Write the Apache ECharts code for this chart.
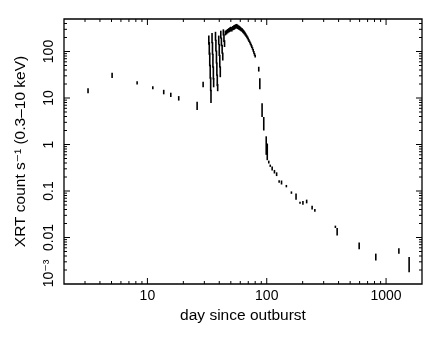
<!DOCTYPE html>
<html>
<head>
<meta charset="utf-8">
<script src="https://cdn.jsdelivr.net/npm/echarts@6/dist/echarts.min.js"></script>
<style>
  html, body { margin: 0; padding: 0; background: #fff; }
  #chart { width: 436px; height: 337px; }
</style>
</head>
<body>
<div id="chart"></div>
<script>
// light curve: day since outburst, lower and upper end of each error bar (count/s)
var days = [
  3.18, 5.06, 8.2, 11.1, 13.7, 15.7, 18.3, 26.1, 29.3,
  32.7, 33.0, 33.3, 33.6, 33.9, 34.1,
  34.8, 35.1, 35.4, 35.7, 35.9,
  37.2, 37.5, 37.9, 38.2, 38.5, 38.8,
  39.6, 40.0, 40.4, 40.8,
  41.2, 41.7, 42.3, 42.8,
  43.3, 43.8, 44.3,
  45, 46, 47, 48, 49, 50, 51, 52, 53, 54, 55, 56, 57, 58, 59, 60, 61, 62,
  63, 64, 65, 66, 67, 68, 69, 70, 71, 72, 73, 74, 75, 76, 77, 78, 79, 80,
  85.7, 87.5, 91.4, 94.4, 99, 101,
  104, 107, 111, 116, 121, 127, 133, 146, 161, 176, 190, 201, 216, 240, 253,
  376, 389, 595, 820, 1280, 1560
];
var rateLo = [
  12.6, 27, 19.5, 15.5, 12, 10.5, 8.8, 5.5, 17,
  140, 85, 48, 26, 14, 7.8,
  150, 85, 45, 25, 17,
  170, 100, 55, 30, 18, 14,
  140, 80, 45, 28,
  190, 130, 90, 64,
  220, 160, 125,
  222, 232, 245, 255, 262, 272, 268, 285, 290, 300, 310, 315, 305, 296, 290, 280, 272, 265,
  253, 242, 231, 219, 208, 197, 184, 172, 161, 150, 139, 128, 119, 109, 99, 90, 81, 74,
  37, 15.5, 3.9, 2.0, 0.6, 0.46,
  0.39, 0.33, 0.29, 0.25, 0.22, 0.15, 0.145, 0.12, 0.087, 0.065, 0.053, 0.053, 0.057, 0.042, 0.036,
  0.016, 0.011, 0.0056, 0.0032, 0.0045, 0.0018
];
var rateHi = [
  16.2, 35, 23, 18, 15, 13, 11, 8.3, 22.5,
  220, 160, 95, 52, 28, 15,
  250, 160, 90, 48, 27,
  265, 180, 105, 58, 32, 20,
  220, 145, 85, 48,
  280, 200, 140, 95,
  300, 235, 175,
  280, 292, 305, 318, 330, 340, 335, 355, 365, 375, 385, 392, 378, 366, 356, 342, 330, 320,
  304, 290, 274, 258, 243, 228, 213, 199, 184, 171, 158, 146, 136, 124, 113, 103, 93, 85,
  47, 26.5, 7.7, 3.9, 1.5, 1.05,
  0.45, 0.37, 0.32, 0.27, 0.24, 0.17, 0.16, 0.135, 0.098, 0.088, 0.059, 0.058, 0.062, 0.046, 0.041,
  0.018, 0.016, 0.0078, 0.0045, 0.0059, 0.0038
];

var xTickValues = [10, 100, 1000];
var xTickLabels = ['10', '100', '1000'];
var yTickValues = [0.001, 0.01, 0.1, 1, 10, 100];
var yTickLabels = ['{lo|10\u207B\u00B3}', '0.01', '0.1', '1', '10', '100'];

var X_MIN = 2, X_MAX = 2000, Y_MIN = 0.001, Y_MAX = 500;
var FONT = '"Liberation Sans", "DejaVu Sans", Arial, sans-serif';

function labelFor(values, labels, v) {
  for (var i = 0; i < values.length; i++) {
    if (Math.abs(Math.log10(v) - Math.log10(values[i])) < 1e-6) return labels[i];
  }
  return '';
}

// decade + minor ticks (1..9 x 10^n) inside the frame on all four sides
function logTicks(lo, hi) {
  var out = [];
  for (var e = Math.floor(Math.log10(lo)); e <= Math.ceil(Math.log10(hi)); e++) {
    for (var k = 1; k <= 9; k++) {
      var v = k * Math.pow(10, e);
      if (v > lo * 1.0001 && v < hi * 0.9999) out.push([v, k === 1 ? 6 : 3]);
    }
  }
  return out;
}
var xTicks = logTicks(X_MIN, X_MAX).map(function (t) { return [t[0], 1, t[1]]; });
var yTicks = logTicks(Y_MIN, Y_MAX).map(function (t) { return [10, t[0], t[1]]; });

var errData = days.map(function (d, i) { return [d, rateLo[i], rateHi[i]]; });

var chart = echarts.init(document.getElementById('chart'), null, { renderer: 'canvas' });

chart.setOption({
  animation: false,
  backgroundColor: '#fff',
  grid: {
    left: 64, right: 14, top: 19, bottom: 53,
    show: true, borderColor: '#000', borderWidth: 1.3,
    backgroundColor: 'transparent',
    outerBoundsMode: 'none'
  },
  xAxis: {
    type: 'log', logBase: 10, min: X_MIN, max: X_MAX,
    axisLine: { show: false }, axisTick: { show: false }, splitLine: { show: false },
    axisLabel: {
      color: '#000', fontSize: 14, fontFamily: FONT, margin: 5,
      showMinLabel: false, showMaxLabel: false,
      formatter: function (v) { return labelFor(xTickValues, xTickLabels, v); }
    },
    name: 'day since outburst', nameLocation: 'middle', nameGap: 23,
    nameTextStyle: { color: '#000', fontSize: 15.5, fontFamily: FONT }
  },
  yAxis: {
    type: 'log', logBase: 10, min: Y_MIN, max: Y_MAX,
    axisLine: { show: false }, axisTick: { show: false }, splitLine: { show: false },
    axisLabel: {
      color: '#000', fontSize: 14, fontFamily: FONT, margin: 8, rotate: 90,
      showMaxLabel: false,
      formatter: function (v) { return labelFor(yTickValues, yTickLabels, v); },
      rich: {
        lo: { color: '#000', fontSize: 14, fontFamily: FONT, padding: [0, 0, 0, 21] }
      }
    },
    name: 'XRT count s\u207B\u00B9 (0.3\u201310 keV)', nameLocation: 'middle', nameGap: 35, nameRotate: 90,
    nameTextStyle: { color: '#000', fontSize: 15.5, fontFamily: FONT }
  },
  series: [
    {
      type: 'custom', name: 'ticksX', silent: true,
      data: xTicks, encode: { x: 0, y: 1 },
      renderItem: function (params, api) {
        var cs = params.coordSys;
        var x = api.coord([api.value(0), 1])[0];
        var len = api.value(2);
        var yb = cs.y + cs.height, yt = cs.y;
        var st = { stroke: '#000', lineWidth: 1 };
        return { type: 'group', children: [
          { type: 'line', shape: { x1: x, y1: yb, x2: x, y2: yb - len }, style: st },
          { type: 'line', shape: { x1: x, y1: yt, x2: x, y2: yt + len }, style: st }
        ] };
      }
    },
    {
      type: 'custom', name: 'ticksY', silent: true,
      data: yTicks, encode: { x: 0, y: 1 },
      renderItem: function (params, api) {
        var cs = params.coordSys;
        var y = api.coord([10, api.value(1)])[1];
        var len = api.value(2);
        var xl = cs.x, xr = cs.x + cs.width;
        var st = { stroke: '#000', lineWidth: 1 };
        return { type: 'group', children: [
          { type: 'line', shape: { x1: xl, y1: y, x2: xl + len, y2: y }, style: st },
          { type: 'line', shape: { x1: xr, y1: y, x2: xr - len, y2: y }, style: st }
        ] };
      }
    },
    {
      type: 'custom', name: 'XRT', silent: true,
      data: errData, encode: { x: 0, y: [1, 2] },
      renderItem: function (params, api) {
        var p0 = api.coord([api.value(0), api.value(1)]);
        var p1 = api.coord([api.value(0), api.value(2)]);
        if (Math.abs(p0[1] - p1[1]) < 2) { p0[1] += 1; p1[1] -= 1; }
        return {
          type: 'line',
          shape: { x1: p0[0], y1: p0[1], x2: p1[0], y2: p1[1] },
          style: { stroke: '#000', lineWidth: 1.6 }
        };
      }
    }
  ]
});
</script>
</body>
</html>
